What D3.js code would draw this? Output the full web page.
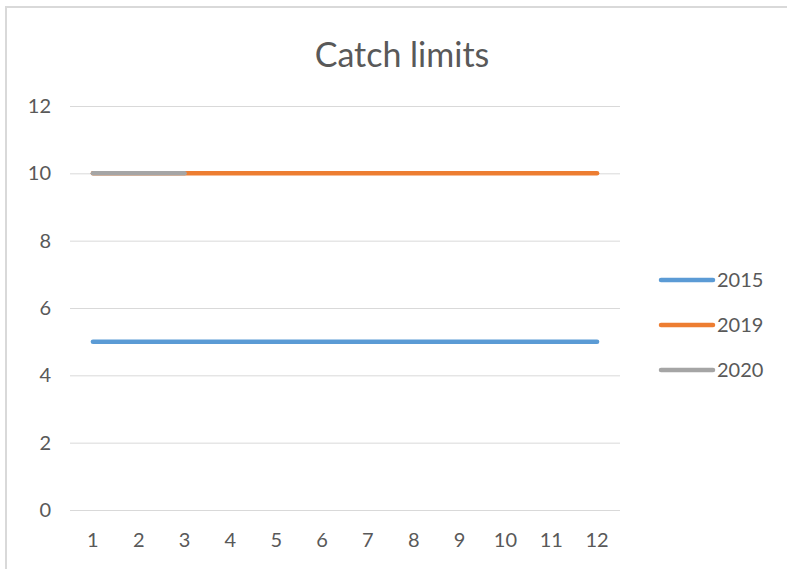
<!DOCTYPE html>
<html>
<head>
<meta charset="utf-8">
<script src="https://cdn.jsdelivr.net/npm/d3@7"></script>
<style>
  body { margin: 0; background: #fff; }
  text { font-family: Lato, "Open Sans", sans-serif; fill: #595959; }
</style>
</head>
<body>
<div id="chart"></div>
<script>
// donnees
var categories = [1, 2, 3, 4, 5, 6, 7, 8, 9, 10, 11, 12];
var seriesNames = ["2015", "2019", "2020"];
var values2015 = [5, 5, 5, 5, 5, 5, 5, 5, 5, 5, 5, 5];
var values2019 = [10, 10, 10, 10, 10, 10, 10, 10, 10, 10, 10, 10];
var values2020 = [10, 10, 10, null, null, null, null, null, null, null, null, null];
var yTicks = [0, 2, 4, 6, 8, 10, 12];
var colors = ["#5b9bd5", "#ed7d31", "#a5a5a5"];

var width = 787, height = 569;
var plot = {left: 70, right: 620, top: 106, bottom: 510};

var svg = d3.select("#chart").append("svg")
    .attr("width", width)
    .attr("height", height);

// cadre du graphique
svg.append("rect")
    .attr("x", 6).attr("y", 7)
    .attr("width", 800).attr("height", 600)
    .attr("fill", "#fff")
    .attr("stroke", "#d9d9d9")
    .attr("stroke-width", 2);

var x = d3.scaleBand().domain(categories).range([plot.left, plot.right]);
var y = d3.scaleLinear().domain([0, 12]).range([plot.bottom, plot.top]);

// titre
svg.append("text")
    .attr("x", 402).attr("y", 67)
    .style("text-anchor", "middle")
    .style("font-size", "34px")
    .text("Catch limits");

// grille horizontale
svg.append("g").selectAll("line")
    .data(yTicks)
    .enter().append("line")
    .attr("x1", plot.left).attr("x2", plot.right)
    .attr("y1", function(d) { return y(d) + 0.5; })
    .attr("y2", function(d) { return y(d) + 0.5; })
    .attr("stroke", "#d9d9d9")
    .attr("stroke-width", 1);

// axe des ordonnees
var yAxis = svg.append("g")
    .attr("transform", "translate(" + (plot.left - 19) + ",0)")
    .call(d3.axisLeft(y).tickValues(yTicks).tickSize(0).tickPadding(0));
yAxis.select(".domain").remove();
yAxis.selectAll("text")
    .style("font-size", "20px")
    .style("font-family", "Lato, 'Open Sans', sans-serif")
    .attr("fill", "#595959");

// axe des abscisses
var xAxis = svg.append("g")
    .attr("transform", "translate(0," + plot.bottom + ")")
    .call(d3.axisBottom(x).tickSize(0).tickPadding(23));
xAxis.select(".domain").remove();
xAxis.selectAll("text")
    .style("font-size", "20px")
    .style("font-family", "Lato, 'Open Sans', sans-serif")
    .attr("fill", "#595959");

// courbes
var allSeries = [values2015, values2019, values2020];
var line = d3.line()
    .defined(function(d) { return d != null; })
    .x(function(d, i) { return x(categories[i]) + x.bandwidth() / 2; })
    .y(function(d) { return y(d); });

svg.append("g").selectAll("path")
    .data(allSeries)
    .enter().append("path")
    .attr("d", line)
    .attr("fill", "none")
    .attr("stroke", function(d, i) { return colors[i]; })
    .attr("stroke-width", 4.5)
    .attr("stroke-linecap", "round")
    .attr("stroke-linejoin", "round");

// legende
var legend = svg.selectAll(".legend")
    .data(seriesNames)
    .enter().append("g")
    .attr("class", "legend")
    .attr("transform", function(d, i) { return "translate(661," + (280 + i * 45) + ")"; });

legend.append("line")
    .attr("x1", 0).attr("x2", 52)
    .attr("y1", 0).attr("y2", 0)
    .attr("stroke", function(d, i) { return colors[i]; })
    .attr("stroke-width", 4.5)
    .attr("stroke-linecap", "round");

legend.append("text")
    .attr("x", 56)
    .attr("y", 0)
    .attr("dy", "0.35em")
    .style("font-size", "20px")
    .text(function(d) { return d; });
</script>
</body>
</html>
